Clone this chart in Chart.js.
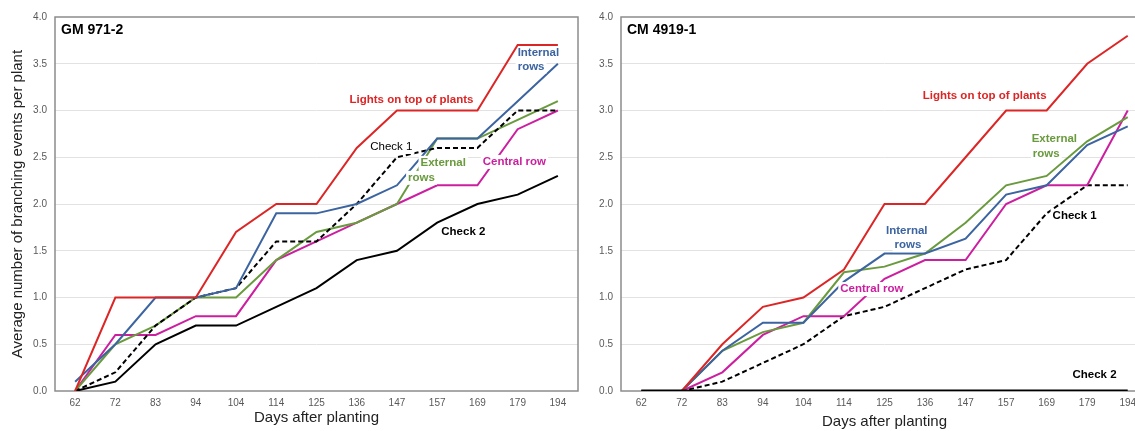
<!DOCTYPE html>
<html>
<head>
<meta charset="utf-8">
<script src="https://cdn.jsdelivr.net/npm/chart.js@4.4.1/dist/chart.umd.min.js"></script>
<style>
  html, body { margin: 0; padding: 0; background: #fff; overflow: hidden; }
  #page { width: 1135px; height: 431px; position: relative; overflow: hidden; }
  .panel { position: absolute; top: 0; height: 431px; }
  #gm { left: 0; width: 580px; }
  #cm { left: 580px; width: 580px; }
</style>
</head>
<body>
<div id="page">
  <div class="panel" id="gm"><canvas id="gm-chart"></canvas></div>
  <div class="panel" id="cm"><canvas id="cm-chart"></canvas></div>
</div>
<script>
const days = ["62", "72", "83", "94", "104", "114", "125", "136", "147", "157", "169", "179", "194"];
const yTicks = [0, 0.5, 1, 1.5, 2, 2.5, 3, 3.5, 4];

// GM 971-2
const gmLights = [0, 1.0, 1.0, 1.0, 1.7, 2.0, 2.0, 2.6, 3.0, 3.0, 3.0, 3.7, 3.7];
const gmInternal = [0.1, 0.5, 1.0, 1.0, 1.1, 1.9, 1.9, 2.0, 2.2, 2.7, 2.7, 3.1, 3.5];
const gmExternal = [0, 0.5, 0.7, 1.0, 1.0, 1.4, 1.7, 1.8, 2.0, 2.7, 2.7, 2.9, 3.1];
const gmCentral = [0, 0.6, 0.6, 0.8, 0.8, 1.4, 1.6, 1.8, 2.0, 2.2, 2.2, 2.8, 3.0];
const gmCheck1 = [0, 0.2, 0.7, 1.0, 1.1, 1.6, 1.6, 2.0, 2.5, 2.6, 2.6, 3.0, 3.0];
const gmCheck2 = [0, 0.1, 0.5, 0.7, 0.7, 0.9, 1.1, 1.4, 1.5, 1.8, 2.0, 2.1, 2.3];

// CM 4919-1
const cmLights = [0, 0, 0.5, 0.9, 1.0, 1.3, 2.0, 2.0, 2.5, 3.0, 3.0, 3.5, 3.8];
const cmInternal = [0, 0, 0.43, 0.73, 0.73, 1.17, 1.47, 1.47, 1.63, 2.1, 2.2, 2.63, 2.83];
const cmExternal = [0, 0, 0.43, 0.63, 0.73, 1.27, 1.33, 1.47, 1.8, 2.2, 2.3, 2.67, 2.93];
const cmCentral = [0, 0, 0.2, 0.6, 0.8, 0.8, 1.2, 1.4, 1.4, 2.0, 2.2, 2.2, 3.0];
const cmCheck1 = [0, 0, 0.1, 0.3, 0.5, 0.8, 0.9, 1.1, 1.3, 1.4, 1.9, 2.2, 2.2];
const cmCheck2 = [0, 0, 0, 0, 0, 0, 0, 0, 0, 0, 0, 0, 0];

const FONT = "'Liberation Sans', Arial, sans-serif";
const RED = "#dc2626", BLUE = "#3c64a0", GREEN = "#6a9a3e", PINK = "#cc1f9f", BLACK = "#000";

function line(label, data, color, width, dash) {
  return {
    label, data,
    borderColor: color,
    backgroundColor: "transparent",
    borderWidth: width || 2,
    borderDash: dash || [],
    pointRadius: 0,
    tension: 0,
  };
}

// plot frame, in-plot series labels and the panel name
const notes = {
  id: "notes",
  beforeDatasetsDraw(chart) {
    const { ctx, chartArea: a } = chart;
    ctx.save();
    ctx.strokeStyle = "#8c8c8c";
    ctx.lineWidth = 1.5;
    ctx.strokeRect(a.left, a.top, a.right - a.left, a.bottom - a.top);
    ctx.restore();
  },
  afterDatasetsDraw(chart, args, opts) {
    const { ctx, chartArea: a, scales: { x, y } } = chart;
    ctx.save();
    ctx.textBaseline = "middle";
    for (const n of opts.items || []) {
      ctx.font = (n.bold === false ? "" : "bold ") + "11.5px " + FONT;
      const w = ctx.measureText(n.text).width;
      const px = x.getPixelForValue(n.at[0]);
      const py = y.getPixelForValue(n.at[1]);
      const left = n.align === "left" ? px : px - w / 2;
      if (n.clear !== false) {
        ctx.fillStyle = "#fff";
        ctx.fillRect(left - 2, py - 7, w + 4, 14);
      }
      ctx.fillStyle = n.color;
      ctx.textAlign = "left";
      ctx.fillText(n.text, left, py);
    }
    ctx.font = "bold 14px " + FONT;
    ctx.fillStyle = "#000";
    ctx.textAlign = "left";
    ctx.fillText(opts.name, a.left + 6, a.top + 13);
    ctx.restore();
  },
};

function panel(id, name, datasets, items, o) {
  new Chart(document.getElementById(id), {
    type: "line",
    data: { labels: days, datasets },
    plugins: [notes],
    options: {
      responsive: true,
      maintainAspectRatio: false,
      animation: false,
      layout: { padding: { top: 17, right: o.padRight, bottom: 0, left: 0 } },
      plugins: {
        legend: { display: false },
        tooltip: { enabled: false },
        notes: { name, items },
      },
      scales: {
        x: {
          offset: true,
          afterFit: (s) => { s.height = 40; },
          grid: { display: false, drawTicks: false },
          border: { display: false },
          ticks: { color: "#595959", font: { family: FONT, size: 10 }, padding: 6, maxRotation: 0, autoSkip: false },
          title: {
            display: true,
            text: "Days after planting",
            color: "#222",
            font: { family: FONT, size: 15 },
            padding: { top: 0, bottom: o.xTitlePad },
          },
        },
        y: {
          min: 0,
          max: 4,
          afterFit: (s) => { s.width = o.yWidth; },
          afterBuildTicks: (s) => { s.ticks = yTicks.map((v) => ({ value: v })); },
          grid: { color: (c) => (c.tick.value > 0 && c.tick.value < 4 ? "#e2e2e2" : "transparent"), drawTicks: false },
          border: { display: false },
          ticks: { color: "#595959", font: { family: FONT, size: 10 }, padding: 8, callback: (v) => v.toFixed(1) },
          title: {
            display: o.yTitle,
            text: "Average number of branching events per plant",
            color: "#222",
            font: { family: FONT, size: 15 },
            padding: { top: 9, bottom: 0 },
          },
        },
      },
    },
  });
}

panel("gm-chart", "GM 971-2", [
  line("Lights on top of plants", gmLights, RED),
  line("Internal rows", gmInternal, BLUE),
  line("Check 1", gmCheck1, BLACK, 2, [5, 3]),
  line("External rows", gmExternal, GREEN),
  line("Central row", gmCentral, PINK),
  line("Check 2", gmCheck2, BLACK),
], [
  { text: "Lights on top of plants", color: RED, at: [8.36, 3.11] },
  { text: "Internal", color: BLUE, at: [11.0, 3.62], align: "left", clear: false },
  { text: "rows", color: BLUE, at: [11.0, 3.47], align: "left" },
  { text: "Check 1", color: BLACK, at: [7.86, 2.61], bold: false },
  { text: "External", color: GREEN, at: [9.15, 2.44] },
  { text: "rows", color: GREEN, at: [8.61, 2.28] },
  { text: "Central row", color: PINK, at: [10.92, 2.45] },
  { text: "Check 2", color: BLACK, at: [9.65, 1.70] },
], { yWidth: 55, yTitle: true, xTitlePad: 4, padRight: 2 });

panel("cm-chart", "CM 4919-1", [
  line("Check 2", cmCheck2, BLACK, 3),
  line("Lights on top of plants", cmLights, RED),
  line("Internal rows", cmInternal, BLUE),
  line("External rows", cmExternal, GREEN),
  line("Central row", cmCentral, PINK),
  line("Check 1", cmCheck1, BLACK, 2, [5, 3]),
], [
  { text: "Lights on top of plants", color: RED, at: [8.47, 3.16] },
  { text: "External", color: GREEN, at: [9.63, 2.70], align: "left" },
  { text: "rows", color: GREEN, at: [9.66, 2.54], align: "left" },
  { text: "Internal", color: BLUE, at: [6.55, 1.71] },
  { text: "rows", color: BLUE, at: [6.58, 1.56] },
  { text: "Central row", color: PINK, at: [5.69, 1.09] },
  { text: "Check 1", color: BLACK, at: [10.69, 1.87] },
  { text: "Check 2", color: BLACK, at: [11.18, 0.17] },
], { yWidth: 41, yTitle: false, xTitlePad: 0, padRight: 12 });
</script>
</body>
</html>
